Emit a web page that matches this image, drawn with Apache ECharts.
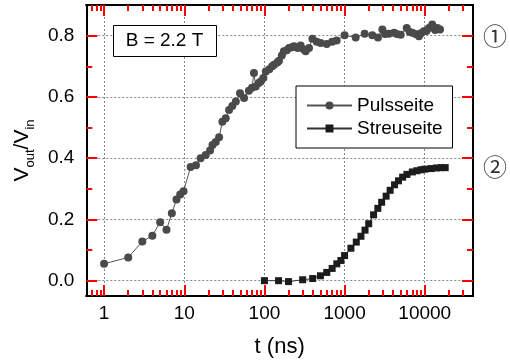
<!DOCTYPE html>
<html>
<head>
<meta charset="utf-8">
<script src="https://cdn.jsdelivr.net/npm/echarts@6/dist/echarts.min.js"></script>
<style>
html,body{margin:0;padding:0;background:#fff;}
#chart{width:510px;height:364px;}
</style>
</head>
<body>
<div id="chart"></div>
<script>
// ---- data ----
const pulsT = [1,2,3,4,5,6,7,8,8.9,9.8,12,14,16,18.5,21,22.5,24.7,27.2,29.9,32.9,36.2,39.8,44,49.6,55.7,64,70,74,78,85,90,97,104,115,125,132,145,152,165,175,190,203,220,234,260,283,310,327,360,397,450,503,598,700,796,1000,1375,1780,2220,2610,2960,3200,3560,4140,4500,5010,5960,6500,7000,7700,8470,9000,9770,10500,11300,12400,13500,14400,15500];
const pulsV = [0.055,0.076,0.128,0.147,0.191,0.166,0.220,0.265,0.281,0.292,0.371,0.377,0.400,0.410,0.425,0.443,0.453,0.468,0.519,0.530,0.557,0.570,0.585,0.612,0.596,0.620,0.630,0.678,0.634,0.645,0.650,0.662,0.683,0.690,0.700,0.705,0.712,0.718,0.735,0.749,0.752,0.760,0.762,0.765,0.760,0.768,0.755,0.749,0.760,0.790,0.780,0.776,0.773,0.780,0.784,0.801,0.794,0.806,0.801,0.794,0.820,0.805,0.806,0.809,0.805,0.803,0.825,0.812,0.809,0.805,0.798,0.808,0.814,0.815,0.825,0.836,0.818,0.825,0.820];
const streuT = [100,150,200,300,400,500,600,700,800,900,1000,1200,1400,1600,1800,2000,2300,2600,2900,3300,3700,4200,4700,5300,6000,7000,8000,9000,10000,12000,14000,16000,18000];
const streuV = [0,0,-0.003,0.003,0.007,0.016,0.027,0.040,0.055,0.066,0.082,0.106,0.126,0.145,0.165,0.186,0.215,0.236,0.256,0.276,0.295,0.313,0.326,0.338,0.347,0.355,0.359,0.362,0.364,0.366,0.368,0.369,0.369];
const xMajorTicks = [1,10,100,1000,10000];
const xMinorTicks = [0.7,0.8,0.9,2,3,4,5,6,7,8,9,20,30,40,50,60,70,80,90,200,300,400,500,600,700,800,900,2000,3000,4000,5000,6000,7000,8000,9000,20000,30000];
const yMajorTicks = [0,0.2,0.4,0.6,0.8];
const yMinorTicks = [0.1,0.3,0.5,0.7];
const seriesNames = ['Pulsseite','Streuseite'];

const X_MIN = 0.6, X_MAX = 40000, Y_MIN = -0.05, Y_MAX = 0.9;
const FONT = '"Liberation Sans", Arial, sans-serif';
const TICK = 'red';
const chart = echarts.init(document.getElementById('chart'));

function xAxisDef(pos, ticks, len, main) {
  return {
    type:'log', min:X_MIN, max:X_MAX, position:pos,
    axisLine:{show:true, onZero:false, lineStyle:{color:'#000', width:2}},
    axisTick:{show:true, inside:true, length:len, customValues:ticks, lineStyle:{color:TICK, width:2}},
    axisLabel: main ? {show:true, customValues:xMajorTicks, margin:8, fontSize:19, color:'#000', fontFamily:FONT,
      formatter: v => String(Math.round(v))} : {show:false},
    splitLine: main ? {show:true, lineStyle:{color:'#888', type:[2,2], width:1}} : {show:false},
    name: main ? 't (ns)' : '', nameLocation:'middle', nameGap:40,
    nameTextStyle:{fontSize:22, color:'#000', fontFamily:FONT}
  };
}
function yAxisDef(pos, ticks, len, main) {
  return {
    type:'value', min:Y_MIN, max:Y_MAX, position:pos,
    axisLine:{show:true, onZero:false, lineStyle:{color:'#000', width:2}},
    axisTick:{show:true, inside:true, length:len, customValues:ticks, lineStyle:{color:TICK, width:2}},
    axisLabel: main ? {show:true, customValues:yMajorTicks, margin:12, fontSize:19, color:'#000', fontFamily:FONT,
      formatter: v => v.toFixed(1)} : {show:false},
    splitLine: main ? {show:true, lineStyle:{color:'#888', type:[2,2], width:1}} : {show:false},
    name: main ? '{a|V}{b|out}{a|/V}{b|in}' : '', nameLocation:'middle', nameGap:48, nameRotate:90,
    nameTextStyle:{color:'#000', fontFamily:FONT, rich:{
      a:{fontSize:21, lineHeight:21, color:'#000', fontFamily:FONT},
      b:{fontSize:13, lineHeight:13, padding:[16,0,0,0], color:'#000', fontFamily:FONT}
    }}
  };
}

chart.setOption({
  animation:false,
  grid:{left:85, top:5, right:37, bottom:68},
  xAxis:[
    xAxisDef('bottom', xMajorTicks, 11, true),
    xAxisDef('bottom', xMinorTicks, 6, false),
    xAxisDef('top', xMajorTicks, 11, false),
    xAxisDef('top', xMinorTicks, 6, false)
  ],
  yAxis:[
    yAxisDef('left', yMajorTicks, 11, true),
    yAxisDef('left', yMinorTicks, 6, false),
    yAxisDef('right', yMajorTicks, 11, false),
    yAxisDef('right', yMinorTicks, 6, false)
  ],
  legend:{
    show:true, orient:'vertical', left:296, top:86,
    padding:[10,10,10,10], itemGap:4, itemWidth:45, itemHeight:10,
    borderColor:'#000', borderWidth:1, backgroundColor:'#fff',
    textStyle:{fontSize:19, color:'#000', fontFamily:FONT},
    data:seriesNames
  },
  series:[
    {
      name:seriesNames[0], type:'line', xAxisIndex:0, yAxisIndex:0,
      data:pulsT.map((t,i)=>[t,pulsV[i]]),
      symbol:'circle', symbolSize:8,
      itemStyle:{color:'#4a4a4a'},
      lineStyle:{color:'#555', width:1}
    },
    {
      name:seriesNames[1], type:'line', xAxisIndex:0, yAxisIndex:0,
      data:streuT.map((t,i)=>[t,streuV[i]]),
      symbol:'rect', symbolSize:7,
      itemStyle:{color:'#1c1c1c'},
      lineStyle:{color:'#333', width:1}
    }
  ],
  graphic:[
    {type:'rect', left:113, top:25, shape:{width:103, height:31},
     style:{fill:'#fff', stroke:'#000', lineWidth:1}, z:10},
    {type:'text', x:164.5, y:41, z:11,
     style:{text:'B = 2.2 T', fontSize:19, fontFamily:FONT, fill:'#000', align:'center', verticalAlign:'middle'}},
    {type:'text', x:495, y:36, z:11,
     style:{text:'①', fontSize:24, fontFamily:'"Noto Sans CJK JP", sans-serif', fill:'#333', align:'center', verticalAlign:'middle'}},
    {type:'text', x:495, y:167, z:11,
     style:{text:'②', fontSize:24, fontFamily:'"Noto Sans CJK JP", sans-serif', fill:'#333', align:'center', verticalAlign:'middle'}}
  ]
});
</script>
</body>
</html>
